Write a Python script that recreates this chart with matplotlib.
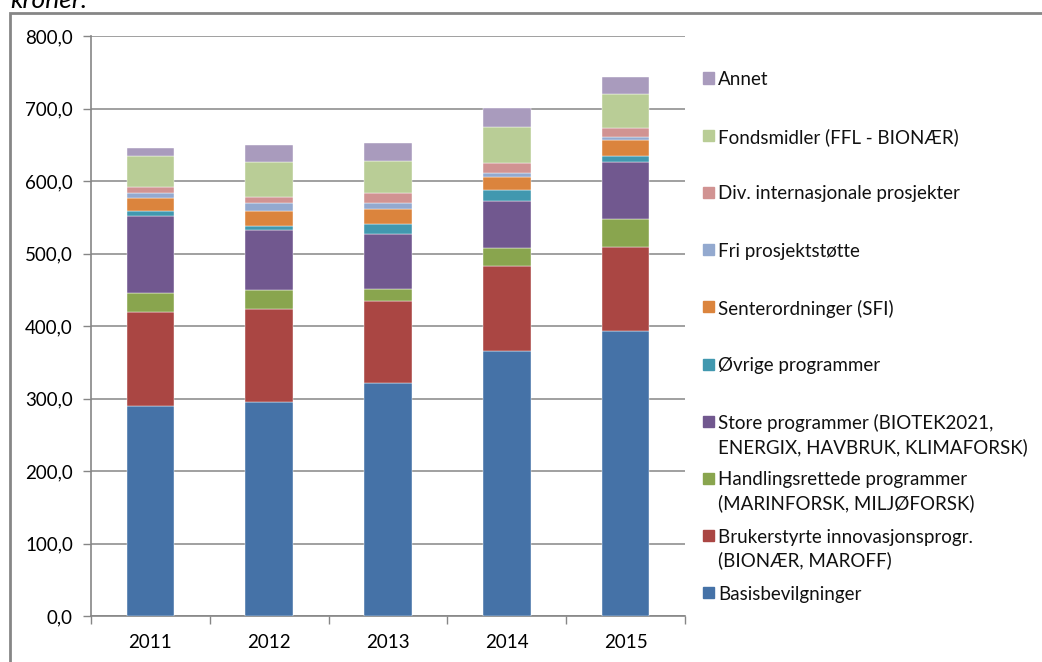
import matplotlib.pyplot as plt
import matplotlib.patches as mpatches
import numpy as np

plt.rcParams['font.family'] = ['Lato', 'DejaVu Sans']

# data (mill. kroner)
years = ['2011', '2012', '2013', '2014', '2015']
basis = [290, 295, 321, 365, 393]
bruker = [130, 128, 114, 118, 116]
handling = [26, 27, 16, 25, 39]
store = [106, 82, 76, 65, 78]
ovrige = [6, 6, 14, 14, 8]
senter = [18, 21, 21, 18, 23]
fri = [8, 10, 7, 6, 4]
internasjonale = [8, 9, 14, 14, 12]
fond = [43, 48, 45, 49, 47]
annet = [11, 23, 25, 27, 24]

series = [
    ('Basisbevilgninger', basis, '#4572A7'),
    ('Brukerstyrte innovasjonsprogr.\n(BIONÆR, MAROFF)', bruker, '#AA4643'),
    ('Handlingsrettede programmer\n(MARINFORSK, MILJØFORSK)', handling, '#89A54E'),
    ('Store programmer (BIOTEK2021,\nENERGIX, HAVBRUK, KLIMAFORSK)', store, '#71588F'),
    ('Øvrige programmer', ovrige, '#4198AF'),
    ('Senterordninger (SFI)', senter, '#DB843D'),
    ('Fri prosjektstøtte', fri, '#93A9CF'),
    ('Div. internasjonale prosjekter', internasjonale, '#D19392'),
    ('Fondsmidler (FFL - BIONÆR)', fond, '#B9CD96'),
    ('Annet', annet, '#A99BBD'),
]

W, H = 1042, 662
fig = plt.figure(figsize=(W / 100, H / 100), dpi=100)
ax = fig.add_axes([91 / W, 1 - 616 / H, (685 - 91) / W, (616 - 36) / H])

x = np.arange(len(years))
bottom = np.zeros(len(years))
for name, vals, col in series:
    ax.bar(x, vals, 0.4, bottom=bottom, color=col, edgecolor='white', linewidth=0.3, zorder=3)
    bottom += np.array(vals)

ax.set_xlim(-0.5, len(years) - 0.5)
ax.set_ylim(0, 800)
ax.set_yticks(np.arange(0, 801, 100))
ax.set_yticklabels([f'{v:.1f}'.replace('.', ',') for v in np.arange(0, 801, 100)], fontsize=13.5)
ax.set_xticks(x)
ax.set_xticklabels(years, fontsize=13.5)
ax.set_xticks(np.arange(-0.5, len(years)), minor=True)
ax.tick_params(axis='x', which='major', length=0, pad=13)
ax.tick_params(axis='x', which='minor', length=6, color='#868686', width=1)
ax.tick_params(axis='y', length=6, color='#868686', width=1, pad=7)
ax.grid(axis='y', color='#A0A0A0', linewidth=1.4, zorder=0)
for s in ['top', 'right']:
    ax.spines[s].set_visible(False)
ax.spines['left'].set_color('#868686')
ax.spines['bottom'].set_color('#868686')
ax.spines['left'].set_linewidth(1.2)
ax.spines['bottom'].set_linewidth(1.2)

# legend, top entry first, markers aligned with first text line
for i, (name, vals, col) in enumerate(reversed(series)):
    yc = 78 + i * 57.2
    fig.patches.append(mpatches.Rectangle((703 / W, 1 - (yc + 5.5) / H), 11 / W, 11 / H,
                                          transform=fig.transFigure, color=col))
    fig.text(718 / W, 1 - (yc - 7) / H, name, fontsize=13.5, va='top', ha='left',
             linespacing=1.38, color='#111111')

# outer chart frame (cut off by the image edge)
fig.patches.append(mpatches.Rectangle((10 / W, -0.05), 1.1, 1 - 13 / H + 0.05,
                                      transform=fig.transFigure, fill=False,
                                      edgecolor='#868686', linewidth=2))
fig.text(10 / W, 1 - 8 / H, 'kroner.', fontsize=19, style='italic', va='baseline', ha='left')

fig.savefig('out.png', dpi=100)
